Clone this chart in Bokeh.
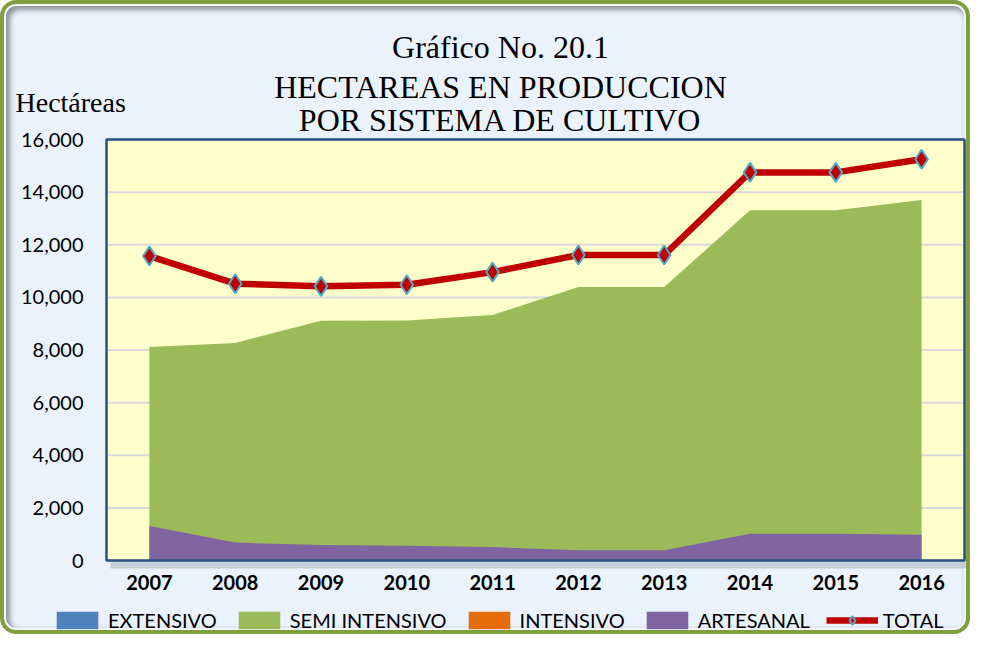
from bokeh.plotting import figure
from bokeh.models import (ColumnDataSource, Range1d, Label, Legend, LegendItem,
                          NumeralTickFormatter, FixedTicker)
from bokeh.embed import file_html
from bokeh.resources import INLINE

years = [2007, 2008, 2009, 2010, 2011, 2012, 2013, 2014, 2015, 2016]
extensivo = [0, 0, 0, 0, 0, 0, 0, 0, 0, 0]
semi_intensivo = [8110, 8270, 9110, 9120, 9330, 10390, 10390, 13310, 13310, 13700]
intensivo = [0, 0, 0, 0, 0, 0, 0, 0, 0, 0]
artesanal = [1310, 680, 590, 560, 510, 390, 390, 1020, 1020, 980]
total = [11570, 10520, 10420, 10480, 10960, 11610, 11610, 14750, 14750, 15250]
y_ticks = [0, 2000, 4000, 6000, 8000, 10000, 12000, 14000, 16000]
y_max = 16000

title_lines = ["Gráfico No. 20.1", "HECTAREAS EN PRODUCCION", "POR SISTEMA DE CULTIVO"]
y_title = "Hectáreas"

# layout (pixels on the canvas)
W, H = 970, 634
FL, FR, FT, FB = 102, 960, 135, 556
x_lo, x_hi = years[0] - 0.5, years[-1] + 0.5
pxx = (FR - FL) / (x_hi - x_lo)
pxy = (FB - FT) / y_max

p = figure(x_range=Range1d(x_lo - FL / pxx, x_hi + (W - FR) / pxx),
           y_range=Range1d(-(H - FB) / pxy, y_max + FT / pxy),
           width=W, height=H, output_backend="svg", toolbar_location=None,
           min_border=0, min_border_left=0, min_border_right=0,
           min_border_top=0, min_border_bottom=0)
p.title.visible = False
p.border_fill_color = None
p.background_fill_color = None
p.outline_line_color = None
p.styles = {
    "border": "4px solid #7F9F3F",
    "border-radius": "16px",
    "background-color": "#EAF3FC",
    "box-shadow": "inset 0 0 0 2px #f4f8fc, inset 3px 3px 5px 3px #8c939c",
}
p.grid.visible = False

# plot area: shadow, fill, gridlines
p.quad(left=x_lo + 4 / pxx, right=x_hi + 5 / pxx, bottom=-8 / pxy, top=y_max - 6 / pxy,
       fill_color="#A9B0B8", fill_alpha=0.55, line_color=None)
p.quad(left=x_lo, right=x_hi, bottom=0, top=y_max, fill_color="#FFFFCC", line_color=None)
p.segment(x0=x_lo, x1=x_hi, y0=y_ticks, y1=y_ticks, line_color="#D9D9D9", line_width=2)

src = ColumnDataSource(dict(x=years, ext=extensivo, semi=semi_intensivo, int=intensivo,
                            art=artesanal, total=total))

r_ext = p.varea(x="x", y1=0, y2="ext", source=src, fill_color="#4F81BD")
r_semi = p.varea(x="x", y1=0, y2="semi", source=src, fill_color="#9BBB59")
r_int = p.varea(x="x", y1=0, y2="int", source=src, fill_color="#E46C0A")
r_art = p.varea(x="x", y1=0, y2="art", source=src, fill_color="#8064A2")
p.quad(left=x_lo, right=x_hi, bottom=0, top=y_max, fill_color=None,
       line_color="#2A4F82", line_width=2.5)
r_line = p.line(x="x", y="total", source=src, line_color="#C00000", line_width=6.5)
r_pts = p.scatter(x="x", y="total", source=src, marker="diamond", size=19,
                  fill_color="#C00000", line_color="#4BACC6", line_width=2)

# axes placed on the plot-area edges
xa, ya = p.xaxis[0], p.yaxis[0]
xa.fixed_location = 0
ya.fixed_location = x_lo
xa.ticker = FixedTicker(ticks=years)
xa.formatter = NumeralTickFormatter(format="0")
ya.ticker = FixedTicker(ticks=y_ticks)
ya.formatter = NumeralTickFormatter(format="0,0")
for ax in (xa, ya):
    ax.axis_line_color = None
    ax.major_tick_line_color = None
    ax.minor_tick_line_color = None
    ax.major_tick_out = 0
    ax.major_tick_in = 0
    ax.major_label_text_color = "#000000"
    ax.major_label_text_font = "Lato"
ya.major_label_text_font_size = "20px"
ya.major_label_standoff = 23
xa.major_label_text_font_style = "bold"
xa.major_label_text_font_size = "20px"
xa.major_label_standoff = 14

for txt, by in zip(title_lines, [42.5, 82.5, 115]):
    p.add_layout(Label(x=496, y=H - by, x_units="screen", y_units="screen", text=txt,
                       text_align="center", text_baseline="alphabetic",
                       text_font="Liberation Serif", text_font_size="32px",
                       text_color="#000000"))
p.add_layout(Label(x=11, y=H - 98, x_units="screen", y_units="screen", text=y_title,
                   text_align="left", text_baseline="alphabetic",
                   text_font="Liberation Serif", text_font_size="28px",
                   text_color="#000000"))

legend = Legend(items=[
    LegendItem(label="EXTENSIVO", renderers=[r_ext]),
    LegendItem(label="SEMI INTENSIVO", renderers=[r_semi]),
    LegendItem(label="INTENSIVO", renderers=[r_int]),
    LegendItem(label="ARTESANAL", renderers=[r_art]),
    LegendItem(label="TOTAL", renderers=[r_line, r_pts]),
], location=(46, 5), orientation="horizontal", glyph_width=52, glyph_height=22,
    label_height=22, label_text_font="Lato", label_text_font_size="20px",
    label_text_color="#000000", label_standoff=5, spacing=16, padding=1, margin=0,
    background_fill_alpha=0, border_line_alpha=0)
p.add_layout(legend)

open("out.html", "w").write(file_html(p, INLINE))
